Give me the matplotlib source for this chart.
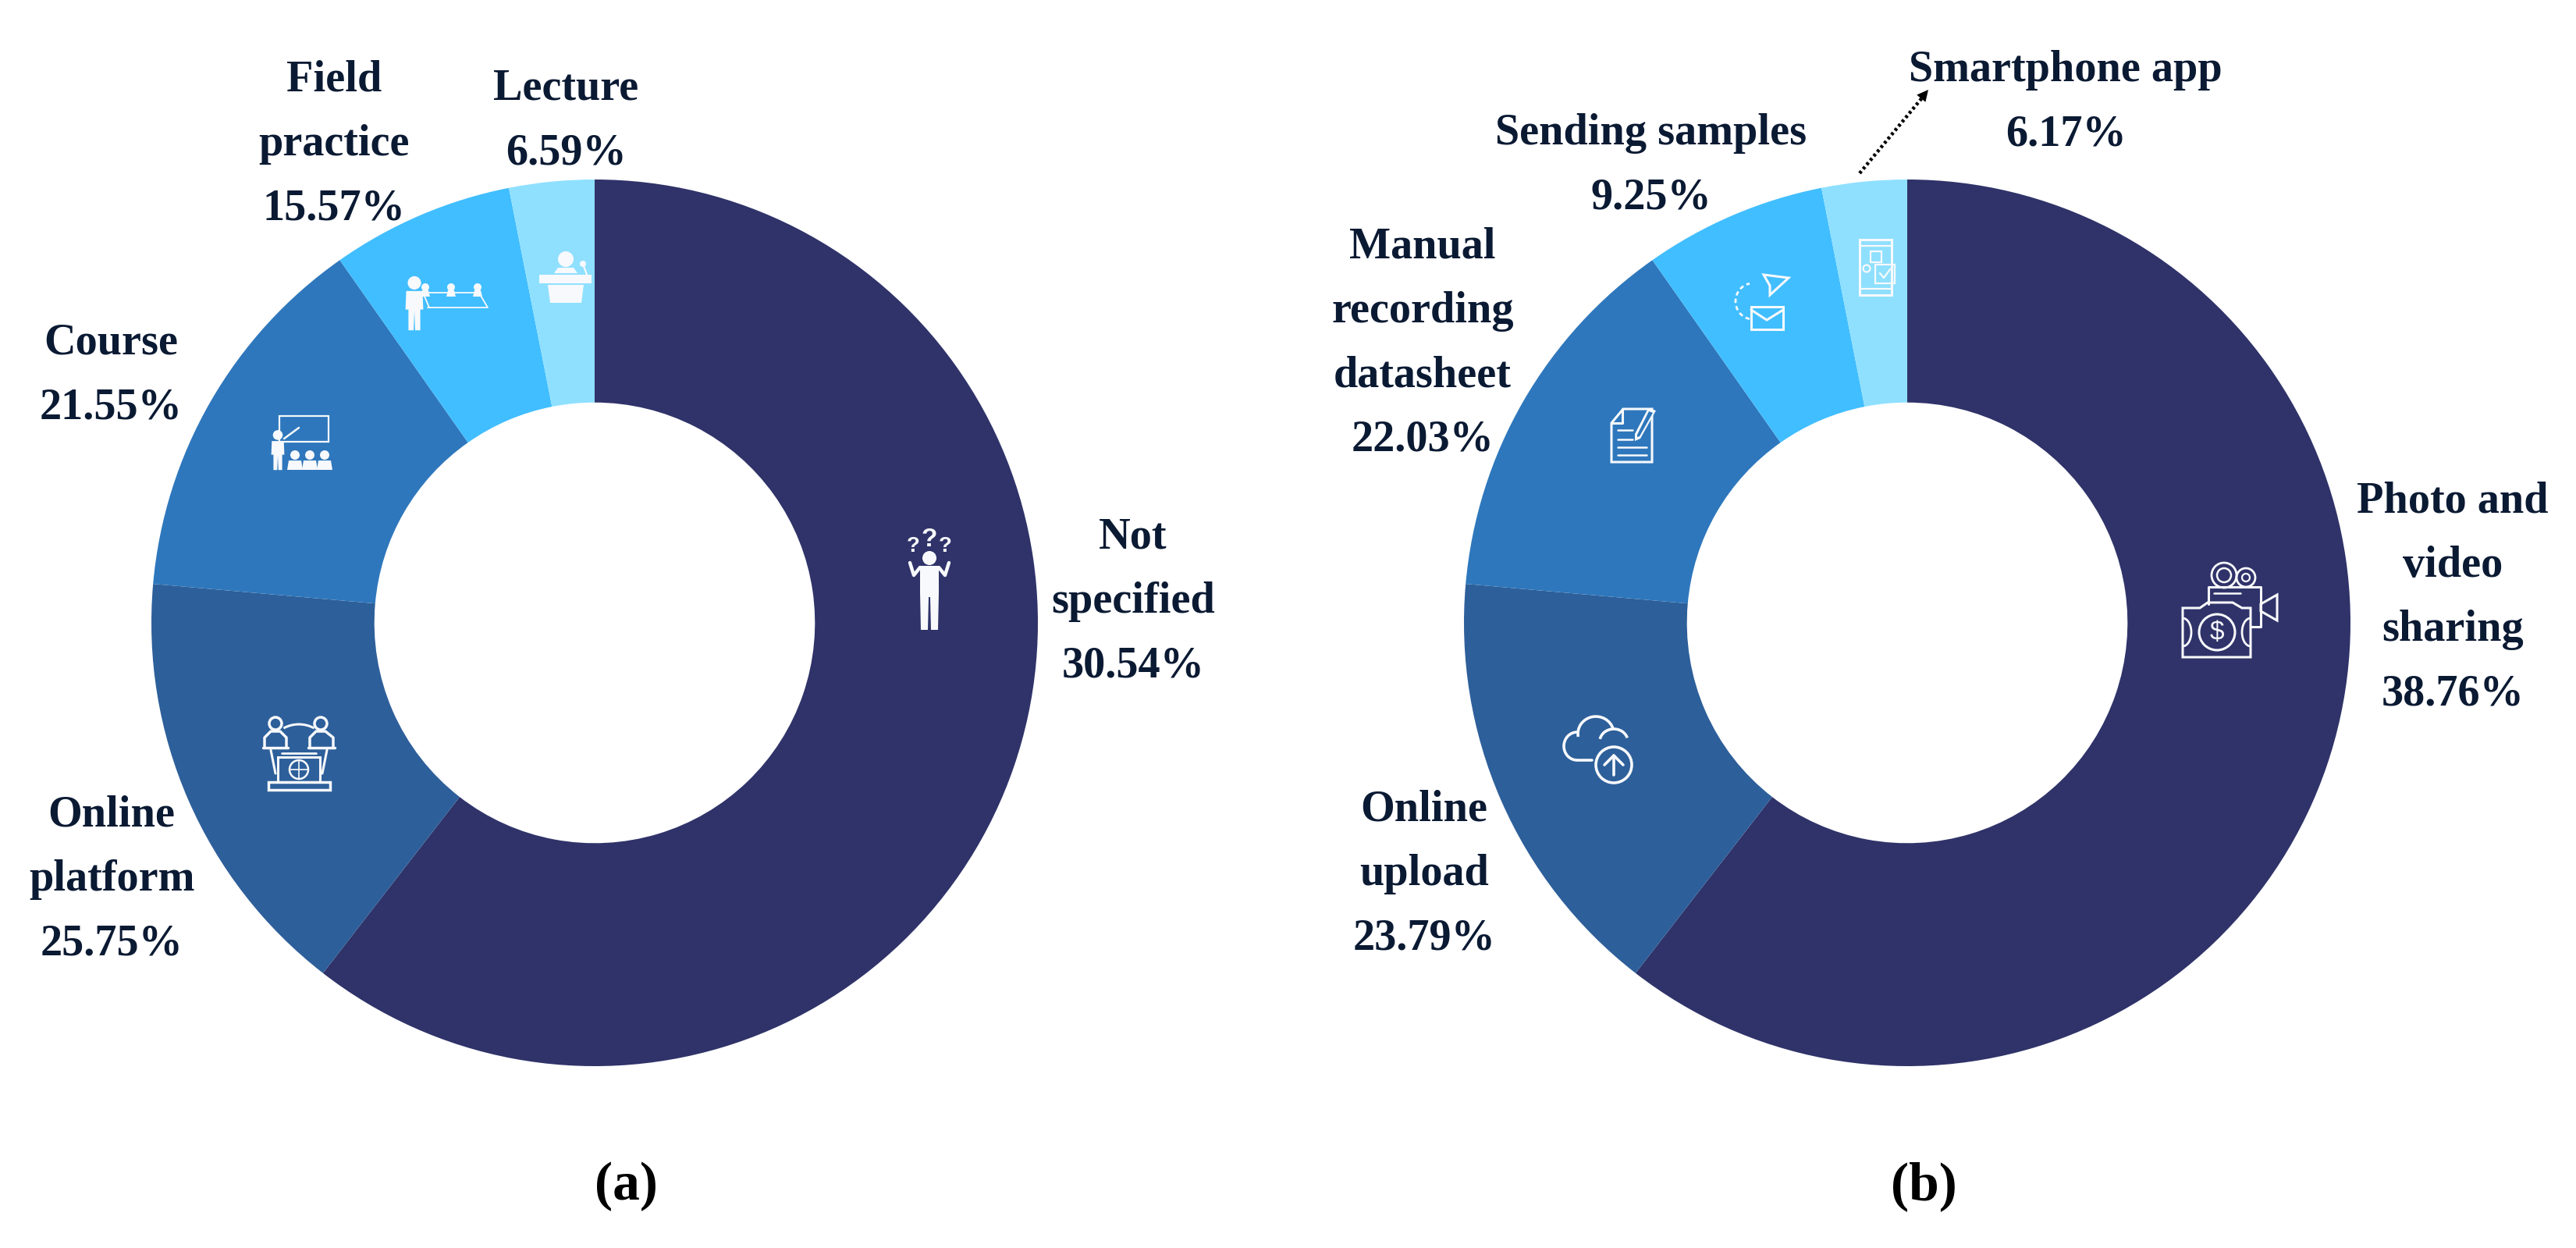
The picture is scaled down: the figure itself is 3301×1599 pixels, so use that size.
from __future__ import annotations

import matplotlib

matplotlib.use("Agg")
import matplotlib.pyplot as plt
from matplotlib.patches import Arc, Circle, Polygon, Rectangle


WIDTH = 3301
HEIGHT = 1599
TEXT_COLOR = "#0b1a33"
ICON = "#f7f9fc"

# slice sizes (they do not follow the printed percentages)
wedges_a = [60.5, 15.9, 13.85, 6.65, 3.1]
wedges_b = [60.5, 15.9, 13.85, 6.65, 3.1]
wedge_colors = ["#2f3369", "#2d5f9a", "#2e77bc", "#41beff", "#8fe0ff"]

labels_a = ["Not\nspecified", "Online\nplatform", "Course", "Field\npractice", "Lecture"]
percents_a = ["30.54%", "25.75%", "21.55%", "15.57%", "6.59%"]
labels_b = [
    "Photo and\nvideo\nsharing",
    "Online\nupload",
    "Manual\nrecording\ndatasheet",
    "Sending samples",
    "Smartphone app",
]
percents_b = ["38.76%", "23.79%", "22.03%", "9.25%", "6.17%"]
panel_names = ["(a)", "(b)"]


def main() -> None:
    fig = plt.figure(figsize=(WIDTH / 100, HEIGHT / 100), dpi=100, facecolor="white")
    _donut(fig, 762, 798, 568, wedges_a)
    _donut(fig, 2444, 798, 568, wedges_b)

    top = fig.add_axes([0, 0, 1, 1])
    top.set_xlim(0, WIDTH)
    top.set_ylim(HEIGHT, 0)
    top.axis("off")
    top.patch.set_alpha(0)

    spots_a = [(1452, 771), (143, 1127), (142, 481), (428, 185), (725, 155)]
    spots_b = [(3143, 766), (1825, 1120), (1823, 440), (2116, 212), (2647, 131)]
    for names, pcts, spots in [(labels_a, percents_a, spots_a), (labels_b, percents_b, spots_b)]:
        for name, pct, (x, y) in zip(names, pcts, spots):
            _label(top, x, y, f"{name}\n{pct}")
    for name, x in zip(panel_names, [802, 2465]):
        top.text(x, 1520, name, ha="center", va="center", family="Liberation Serif",
                 fontweight="bold", fontsize=50, color="black")

    _dotted_arrow(top, 2383, 222, 2471, 115)

    _icon_not_specified(top, 1191, 743)
    _icon_online(top, 383, 965)
    _icon_course(top, 386, 566)
    _icon_field(top, 564, 388)
    _icon_lecture(top, 724, 357)
    _icon_camera(top, 2857, 782)
    _icon_cloud(top, 2048, 962)
    _icon_sheet(top, 2092, 559)
    _icon_mail(top, 2259, 388)
    _icon_phone(top, 2405, 342)

    fig.savefig("out.png", dpi=100, facecolor="white")
    plt.close(fig)


def _donut(fig, cx, cy, radius, values) -> None:
    ax = fig.add_axes([(cx - radius) / WIDTH, 1 - (cy + radius) / HEIGHT, 2 * radius / WIDTH, 2 * radius / HEIGHT])
    ax.pie(
        values,
        colors=wedge_colors,
        startangle=90,
        counterclock=False,
        radius=1.0,
        wedgeprops=dict(width=0.503, linewidth=0),
    )
    ax.set_xlim(-1, 1)
    ax.set_ylim(-1, 1)


def _label(ax, x, y, text) -> None:
    ax.text(x, y, text, ha="center", va="center", ma="center", family="Liberation Serif", fontweight="bold",
            fontsize=40.5, color=TEXT_COLOR, linespacing=1.76)


def _dotted_arrow(ax, x0, y0, x1, y1) -> None:
    ax.plot([x0, x1 - 6], [y0, y1 + 8], color="black", lw=3.2, linestyle=(0, (0.8, 0.8)), dash_capstyle="butt")
    ax.annotate(
        "",
        xy=(x1, y1),
        xytext=(x1 - 14, y1 + 17),
        arrowprops=dict(arrowstyle="-|>", lw=0, color="black", mutation_scale=26, shrinkA=0, shrinkB=0),
    )


def _line(ax, x, y, xs, ys, lw=2.2) -> None:
    ax.plot([x + v for v in xs], [y + v for v in ys], color=ICON, lw=lw, solid_capstyle="round",
            solid_joinstyle="round")


def _ring(ax, x, y, r, lw=2.2, fill=False) -> None:
    ax.add_patch(Circle((x, y), r, fill=fill, fc=ICON if fill else "none", ec=ICON, lw=lw))


def _box(ax, x, y, w, h, lw=2.2, fill=False) -> None:
    ax.add_patch(Rectangle((x, y), w, h, fill=fill, fc=ICON if fill else "none", ec=ICON, lw=lw))


def _shape(ax, x, y, points, fill=True, lw=2.2) -> None:
    pts = [(x + px, y + py) for px, py in points]
    ax.add_patch(Polygon(pts, closed=True, fill=fill, fc=ICON if fill else "none", ec=ICON, lw=lw))


def _person(ax, x, y, scale=1.0) -> None:
    _ring(ax, x, y - 28 * scale, 9 * scale, lw=0, fill=True)
    _shape(ax, x, y, [(-11 * scale, -17 * scale), (11 * scale, -17 * scale), (12 * scale, 8 * scale),
                      (8 * scale, 8 * scale), (8 * scale, 36 * scale), (1 * scale, 36 * scale),
                      (0, 10 * scale), (-1 * scale, 36 * scale), (-8 * scale, 36 * scale),
                      (-8 * scale, 8 * scale), (-12 * scale, 8 * scale)], lw=0)


def _icon_not_specified(ax, x, y) -> None:
    _ring(ax, x, y - 28, 9, lw=0, fill=True)
    _shape(ax, x, y, [(-12, -18), (12, -18), (12, 16), (11, 64), (2, 64), (1, 22), (-1, 22), (-2, 64),
                      (-11, 64), (-12, 16)], lw=0)
    _line(ax, x, y, [-12, -20, -25], [-16, -6, -22], lw=3.2)
    _line(ax, x, y, [12, 20, 25], [-16, -6, -22], lw=3.2)
    for dx, dy, size in [(-21, -43, 20), (0, -51, 24), (20, -43, 20)]:
        ax.text(x + dx, y + dy, "?", color=ICON, ha="center", va="center", fontsize=size, fontweight="bold",
                family="Liberation Sans")


def _icon_online(ax, x, y) -> None:
    _ring(ax, x - 30, y - 38, 8, lw=2.5)
    _ring(ax, x + 28, y - 38, 8, lw=2.5)
    _line(ax, x, y, [-44, -44, -36, -24, -16, -16], [-7, -20, -28, -28, -20, -7], lw=2.5)
    _line(ax, x, y, [14, 14, 22, 34, 44, 44], [-7, -20, -28, -28, -20, -7], lw=2.5)
    _line(ax, x, y, [-46, -14], [-7, -7], lw=2.5)
    _line(ax, x, y, [12, 46], [-7, -7], lw=2.5)
    ax.add_patch(Arc((x, y - 4), 74, 66, theta1=235, theta2=305, color=ICON, lw=2.2))
    _line(ax, x, y, [-36, -30], [-4, 26])
    _line(ax, x, y, [36, 30], [-4, 26])
    _box(ax, x - 27, y + 5, 54, 32)
    _line(ax, x, y, [-22, 22], [0, 0], lw=2)
    _ring(ax, x, y + 21, 12, lw=1.8)
    _line(ax, x, y, [-12, 12], [21, 21], lw=1.2)
    _line(ax, x, y, [0, 0], [9, 33], lw=1.2)
    _box(ax, x - 39, y + 37, 79, 10, lw=2.5)


def _icon_course(ax, x, y) -> None:
    _box(ax, x - 28, y - 33, 63, 33, lw=1.6)
    _person(ax, x - 30, y + 11, scale=0.7)
    _line(ax, x, y, [-22, -3], [-4, -18], lw=1.8)
    for dx in (-8, 11, 30):
        _ring(ax, x + dx, y + 17, 6, lw=0, fill=True)
        _shape(ax, x + dx, y, [(-10, 36), (-8, 24), (8, 24), (10, 36)], lw=0)


def _icon_field(ax, x, y) -> None:
    _person(ax, x - 33, y + 1, scale=0.95)
    _line(ax, x, y, [-16, 61, 48], [6, 6, -16], lw=1.3)
    _line(ax, x, y, [-18, 48], [-13, -13], lw=1.3)
    _line(ax, x, y, [-14, -22], [6, -13], lw=1.3)
    for dx in (-19, 14, 48):
        _ring(ax, x + dx, y - 20, 5, lw=0, fill=True)
        _shape(ax, x + dx, y, [(-4, -16), (4, -16), (6, -8), (-6, -8)], lw=0)


def _icon_lecture(ax, x, y) -> None:
    _ring(ax, x + 1, y - 25, 10, lw=0, fill=True)
    _shape(ax, x, y, [(-14, -7), (-9, -14), (11, -14), (16, -7)], lw=0)
    _box(ax, x - 33, y - 5, 67, 11, lw=0, fill=True)
    _shape(ax, x, y, [(-22, 8), (24, 8), (21, 31), (-19, 31)], lw=0)
    _ring(ax, x + 23, y - 19, 4, lw=0, fill=True)
    _line(ax, x, y, [24, 28], [-16, -5], lw=1.6)


def _icon_camera(ax, x, y) -> None:
    _ring(ax, x - 7, y - 45, 16, lw=2)
    _ring(ax, x - 7, y - 45, 9, lw=1.8)
    _ring(ax, x + 21, y - 42, 12, lw=2)
    _ring(ax, x + 21, y - 42, 5, lw=1.6)
    _line(ax, x, y, [-27, -27, 40, 40, 27], [-8, -30, -30, 21, 21])
    _line(ax, x, y, [-20, 14], [-22, -22], lw=1.8)
    _shape(ax, x, y, [(40, -8), (61, -20), (61, 13), (40, 1)], fill=False)
    _shape(ax, x, y, [(-60, -3), (-38, -3), (-28, -10), (4, -10), (16, -3), (27, -3), (27, 60), (-60, 60)],
           fill=False)
    _ring(ax, x - 16, y + 28, 23)
    ax.text(x - 16, y + 28, "$", color=ICON, ha="center", va="center", fontsize=24, family="Liberation Sans")
    ax.add_patch(Arc((x - 60, y + 28), 22, 36, theta1=-90, theta2=90, color=ICON, lw=2))
    ax.add_patch(Arc((x + 27, y + 28), 22, 36, theta1=90, theta2=270, color=ICON, lw=2))


def _icon_cloud(ax, x, y) -> None:
    ax.add_patch(Arc((x - 27, y - 6), 34, 36, theta1=90, theta2=270, color=ICON, lw=2.6))
    ax.add_patch(Arc((x - 3, y - 22), 46, 44, theta1=170, theta2=345, color=ICON, lw=2.6))
    ax.add_patch(Arc((x + 20, y - 12), 36, 32, theta1=190, theta2=345, color=ICON, lw=2.6))
    ax.plot([x - 27, x - 8], [y + 12, y + 12], color=ICON, lw=2.6, solid_capstyle="round")
    _ring(ax, x + 20, y + 18, 23, lw=2.6)
    _line(ax, x + 20, y + 18, [0, 0], [13, -12], lw=2.6)
    _line(ax, x + 20, y + 18, [-12, 0, 12], [0, -12, 0], lw=2.6)


def _icon_sheet(ax, x, y) -> None:
    _shape(ax, x, y, [(-27, -17), (-12, -35), (25, -35), (25, 33), (-27, 33)], fill=False)
    _line(ax, x, y, [-27, -13, -13], [-17, -17, -35])
    for dy, right in [(-8, 0), (4, 0), (14, 18), (24, 18)]:
        _line(ax, x, y, [-19, right], [dy, dy], lw=1.8)
    _shape(ax, x, y, [(20, -36), (30, -33), (10, 3), (3, 6), (3, -3)], fill=True, lw=0)
    _shape(ax, x, y, [(21, -32), (26, -30), (9, 0), (6, 1), (6, -2)], fill=True, lw=0)
    ax.patches[-1].set_facecolor(wedge_colors[2])


def _icon_mail(ax, x, y) -> None:
    _box(ax, x - 15, y + 5, 41, 29)
    _line(ax, x, y, [-15, 5, 26], [9, 22, 9])
    _shape(ax, x, y, [(1, -36), (33, -32), (9, -10), (9, -22)], fill=False)
    ax.add_patch(Arc((x - 13, y - 2), 44, 46, theta1=100, theta2=260, color=ICON, lw=2, linestyle=(0, (2, 1.5))))


def _icon_phone(ax, x, y) -> None:
    _box(ax, x - 22, y - 35, 41, 71)
    _line(ax, x, y, [-22, 19], [-27, -27], lw=1.6)
    _line(ax, x, y, [-22, 19], [28, 28], lw=1.6)
    _box(ax, x - 8, y - 20, 14, 14, lw=1.6)
    _ring(ax, x - 13, y + 2, 4.5, lw=1.6)
    _box(ax, x - 2, y - 3, 25, 24, lw=1.6)
    _line(ax, x, y, [4, 9, 17], [8, 14, 3], lw=1.6)


if __name__ == "__main__":
    main()
